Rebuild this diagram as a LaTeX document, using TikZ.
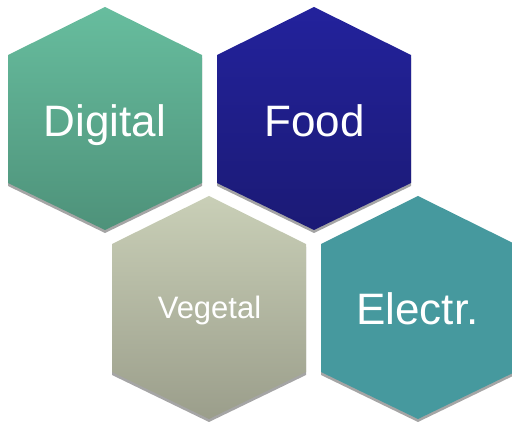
\documentclass[tikz,border=0pt]{standalone}
\usepackage{fontspec}
\setmainfont{Liberation Sans}
\definecolor{digtop}{HTML}{67BD9E}
\definecolor{digbot}{HTML}{4E927A}
\definecolor{foodtop}{HTML}{23229C}
\definecolor{foodbot}{HTML}{1B1A75}
\definecolor{vegtop}{HTML}{C9CFB7}
\definecolor{vegbot}{HTML}{9B9E8B}
\definecolor{elec}{HTML}{46999E}
\definecolor{shadowgray}{HTML}{A5A5A5}
\def\hexshape{(0,-111.5) -- (97,-63.5) -- (97,64.5) -- (0,111.5) -- (-97,64.5) -- (-97,-63.5) -- cycle}
\begin{document}
\begin{tikzpicture}[x=1pt,y=-1pt,
  hexshadow/.style={fill=shadowgray, yshift=-3pt},
  biglabel/.style={text=white, anchor=base, inner sep=0pt, font=\fontsize{44}{50}\selectfont},
  smalllabel/.style={text=white, anchor=base, inner sep=0pt, font=\fontsize{31}{36}\selectfont}]
\useasboundingbox (0,0) rectangle (512,422);
% Digital
\begin{scope}[shift={(105,118.5)}]
  \fill[hexshadow] \hexshape;
  \shade[top color=digtop, bottom color=digbot] \hexshape;
\end{scope}
% Food
\begin{scope}[shift={(314,118.5)}]
  \fill[hexshadow] \hexshape;
  \shade[top color=foodtop, bottom color=foodbot] \hexshape;
\end{scope}
% Vegetal
\begin{scope}[shift={(209,307.5)}]
  \fill[hexshadow] \hexshape;
  \shade[top color=vegtop, bottom color=vegbot] \hexshape;
\end{scope}
% Electr.
\begin{scope}[shift={(418,307.5)}]
  \fill[hexshadow] \hexshape;
  \fill[elec] \hexshape;
\end{scope}
\node[biglabel] (digital) at (105,137) {Digital};
\node[biglabel] (food) at (314.5,137) {Food};
\node[smalllabel] (vegetal) at (209.5,319) {Vegetal};
\node[biglabel] (electr) at (417.5,325) {Electr.};
\end{tikzpicture}
\end{document}
